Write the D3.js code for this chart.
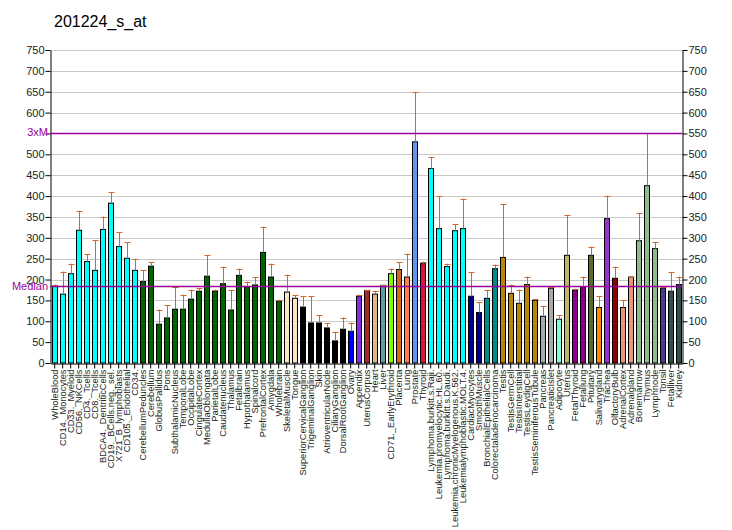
<!DOCTYPE html>
<html><head><meta charset="utf-8">
<script src="https://cdn.jsdelivr.net/npm/d3@7"></script>
<style>body{margin:0;background:#fff}svg{display:block}</style>
</head><body><svg id="c" width="732" height="530"></svg>
<script>
const categories = ["WholeBlood","CD14._Monocytes","CD33._Myeloid","CD56._NKCells","CD4._Tcells","CD8._Tcells","BDCA4._DentriticCells","CD19._BCells.neg._sel.","X721_B_lymphoblasts","CD105._Endothelial","CD34.","CerebellumPeduncles","Cerebellum","GlobusPallidus","Pons","SubthalamicNucleus","TemporalLobe","OccipitalLobe","CingulateCortex","MedullaOblongata","ParietalLobe","Caudatenucleus","Thalamus","Fetalbrain","Hypothalamus","Spinalcord","PrefrontalCortex","Amygdala","Wholebrain","SkeletalMuscle","Tongue","SuperiorCervicalGanglion","TrigeminalGanglion","Skin","AtrioventricularNode","CiliaryGanglion","DorsalRootGanglion","Ovary","Appendix","UterusCorpus","Heart","Liver","CD71._EarlyErythroid","Placenta","Lung","Prostate","Thyroid","Lymphoma.burkitt.s.Raji.","Leukemia.promyelocytic.HL.60.","Lymphoma.burkitt.s.Daudi.","Leukemia.chronicMyelogenous.K.562.","Leukemialymphoblastic.MOLT.4.","CardiacMyocytes","SmoothMuscle","BronchialEpithelialCells","Colorectaladenocarcinoma","Testis","TestisGermCell","TestisInterstitial","TestisLeydigCell","TestisSeminiferousTubule","Pancreas","PancreaticIslet","Adipocyte","Uterus","FetalThyroid","Fetallung","Pituitary","Salivarygland","Trachea","OlfactoryBulb","AdrenalCortex","Adrenalgland","Bonemarrow","Thymus","Lymphnode","Tonsil","Fetalliver","Kidney"];
const values = [184,165,214,318,243,222,320,383,279,251,222,195,232,93,108,129,129,153,172,208,172,190,127,210,183,187,265,206,148,170,155,134,96,96,84,53,81,76,160,174,165,186,214,224,206,530,238,466,322,231,317,322,160,121,155,226,253,167,143,188,150,112,179,105,258,174,183,258,133,346,203,133,206,293,425,274,179,172,188];
const errTops = [188,219,238,365,260,294,351,409,313,289,250,222,241,128,138,182,164,176,179,258,176,231,174,226,195,205,327,238,152,212,162,160,160,114,95,74,109,97,164,174,172,187,226,241,262,649,243,494,399,238,332,394,217,145,174,236,380,188,176,207,154,136,183,114,355,178,207,279,160,401,231,150,207,360,550,289,181,217,207];
const colors = ["#00FFFF","#00FFFF","#00FFFF","#00FFFF","#00FFFF","#00FFFF","#00FFFF","#00FFFF","#00FFFF","#00FFFF","#00FFFF","#006400","#006400","#006400","#006400","#006400","#006400","#006400","#006400","#006400","#006400","#006400","#006400","#006400","#006400","#006400","#006400","#006400","#006400","#FFE4C4","#FFE4C4","#000000","#000000","#000000","#000000","#000000","#000000","#0000FF","#8A2BE2","#A52A2A","#DEB887","#5F9EA0","#7FFF00","#D2691E","#FF7F50","#6495ED","#DC143C","#00FFFF","#00FFFF","#00FFFF","#00FFFF","#00FFFF","#00008B","#00008B","#008B8B","#008B8B","#B8860B","#B8860B","#B8860B","#B8860B","#B8860B","#A9A9A9","#A9A9A9","#7FFFD4","#BDB76B","#8B008B","#8B008B","#556B2F","#FF8C00","#9932CC","#8B0000","#E9967A","#E9967A","#8FBC8F","#8FBC8F","#8FBC8F","#483D8B","#2F4F4F","#2F4F4F"];
const yTicks = [0,50,100,150,200,250,300,350,400,450,500,550,600,650,700,750];
const title = "201224_s_at";
const medianValue = 184;
const threeXM = 552;

const svg = d3.select("#c");
const L = 50, R = 682, T = 50, B = 363;
const x = d3.scaleBand().domain(categories).range([L + 0.7, R + 0.7]).paddingInner(0.25).paddingOuter(0.125);
const y = d3.scaleLinear().domain([0, 750]).range([B, T]);
const font = "Arial, 'Liberation Sans', sans-serif";
const purple = "#990099";

svg.append("text").attr("x", 54).attr("y", 27).attr("font-family", font).attr("font-size", 16).attr("fill", "#000").text(title);

// grid
svg.append("g").selectAll("line").data(yTicks.filter(d => d > 0)).join("line")
  .attr("x1", L).attr("x2", R).attr("y1", d => Math.round(y(d)) + 0.5).attr("y2", d => Math.round(y(d)) + 0.5)
  .attr("stroke", "#c8c8c8").attr("stroke-width", 1);

// axes
const la = svg.append("g").attr("transform", `translate(${L + 0.5},0)`).call(d3.axisLeft(y).tickValues(yTicks).tickSize(5).tickSizeOuter(0).tickFormat(d => d === 550 ? "" : d));
const ra = svg.append("g").attr("transform", `translate(${R + 0.5},0)`).call(d3.axisRight(y).tickValues(yTicks).tickSize(5).tickSizeOuter(0));
[la, ra].forEach(a => {
  a.selectAll("text").attr("font-family", font).attr("font-size", 11).attr("fill", "#222");
  a.select(".domain").attr("stroke", "#000");
  a.selectAll(".tick line").attr("stroke", "#000");
});
la.selectAll("text").attr("x", -6);
ra.selectAll("text").attr("x", 6);

// bars
const bw = x.bandwidth();
svg.append("g").selectAll("rect").data(categories).join("rect")
  .attr("x", d => Math.round(x(d)) + 0.5).attr("width", Math.round(bw) - 1)
  .attr("y", (d, i) => y(values[i])).attr("height", (d, i) => B - y(values[i]))
  .attr("fill", (d, i) => colors[i]).attr("stroke", "#000").attr("stroke-width", 1);

// error bars
const eb = svg.append("g").attr("stroke", "#CD6A2A").attr("stroke-width", 1);
categories.forEach((c, i) => {
  const cx = Math.round(x(c) + bw / 2) + 0.5;
  if (errTops[i] > values[i] + 0.5) {
    eb.append("line").attr("x1", cx).attr("x2", cx).attr("y1", y(values[i])).attr("y2", y(errTops[i]));
  }
  eb.append("line").attr("x1", cx - 3).attr("x2", cx + 3).attr("y1", Math.round(y(errTops[i])) + 0.5).attr("y2", Math.round(y(errTops[i])) + 0.5);
});

// x axis
const xa = svg.append("g").attr("transform", `translate(0,${B + 0.5})`).call(d3.axisBottom(x).tickSize(5).tickSizeOuter(0));
xa.select(".domain").attr("stroke", "#000");
xa.selectAll(".tick line").attr("stroke", "#000");
xa.selectAll("text").attr("font-family", font).attr("font-size", 9.3).attr("fill", "#222")
  .attr("transform", "rotate(-90)").attr("text-anchor", "end").attr("x", -6).attr("y", 0).attr("dy", "0.32em");

// reference lines
[threeXM, medianValue].forEach(v => {
  svg.append("line").attr("x1", L).attr("x2", R).attr("y1", Math.round(y(v)) + 0.5).attr("y2", Math.round(y(v)) + 0.5)
    .attr("stroke", purple).attr("stroke-width", 1.3);
});
svg.append("text").attr("x", 48).attr("y", y(threeXM)).attr("dy", "0.35em").attr("text-anchor", "end")
  .attr("font-family", font).attr("font-size", 11).attr("fill", purple).text("3xM");
svg.append("text").attr("x", 48).attr("y", y(medianValue)).attr("dy", "0.35em").attr("text-anchor", "end")
  .attr("font-family", font).attr("font-size", 11).attr("fill", purple).text("Median");
</script></body></html>
